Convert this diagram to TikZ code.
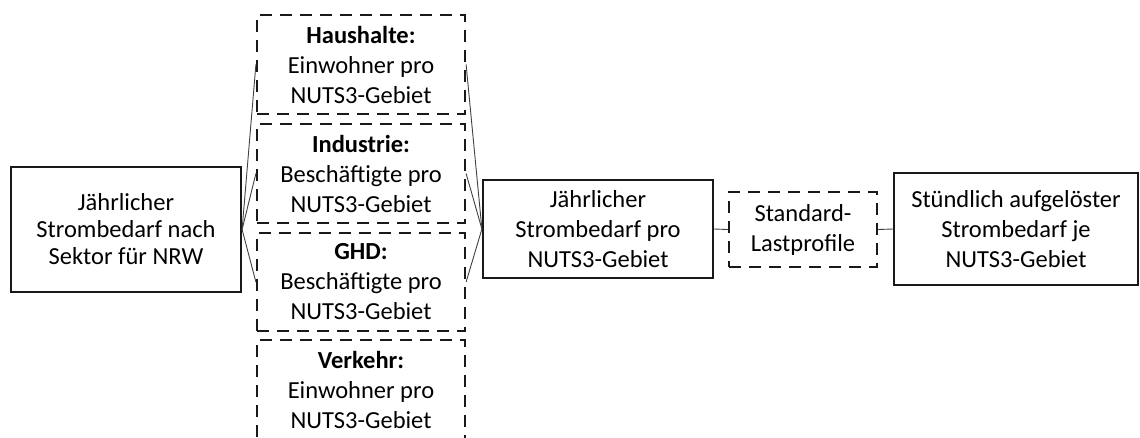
\documentclass[tikz,border=0pt]{standalone}
\usepackage{fontspec}
\setmainfont{Carlito}
\begin{document}
\begin{tikzpicture}[x=1pt,y=-1pt,
  every node/.style={font=\fontsize{24.5}{30}\selectfont, align=center, inner sep=0pt, text=black},
  solidbox/.style={draw=black!90, line width=2.2pt, minimum width=#1},
  dashbox/.style={draw=black!90, line width=2.2pt, dash pattern=on 12pt off 8pt, minimum width=#1},
  link/.style={draw=black!75, line width=0.9pt}
]
\useasboundingbox (0,0) rectangle (1140,437);
\clip (0,0) rectangle (1140,437);

% input: annual demand per sector
\node[solidbox=230pt, minimum height=125pt, font=\fontsize{24.5}{27}\selectfont] (nrw) at (126,229.5)
  {Jährlicher\\Strombedarf nach\\Sektor für NRW};

% distribution keys per sector
\node[dashbox=208pt, minimum height=99pt] (hh) at (361,64.5)
  {\textbf{Haushalte:}\\Einwohner pro\\NUTS3-Gebiet};
\node[dashbox=208pt, minimum height=99pt] (ind) at (361,173.5)
  {\textbf{Industrie:}\\Beschäftigte pro\\NUTS3-Gebiet};
\node[dashbox=208pt, minimum height=98pt] (ghd) at (361,282)
  {\textbf{GHD:}\\Beschäftigte pro\\NUTS3-Gebiet};
\node[dashbox=208pt, minimum height=99pt] (vk) at (361,389.5)
  {\textbf{Verkehr:}\\Einwohner pro\\NUTS3-Gebiet};

% regional annual demand
\node[solidbox=230pt, minimum height=98pt] (reg) at (598,229)
  {Jährlicher\\Strombedarf pro\\NUTS3-Gebiet};

% standard load profiles
\node[dashbox=148pt, minimum height=75pt] (slp) at (803,229.5)
  {Standard-\\Lastprofile};

% hourly demand
\node[solidbox=244pt, minimum height=112pt] (hour) at (1016,229)
  {Stündlich aufgelöster\\Strombedarf je\\NUTS3-Gebiet};

% connectors
\foreach \s in {hh,ind,ghd} {
  \draw[link] (nrw.east) -- (\s.west);
  \draw[link] (\s.east) -- (reg.west);
}
\draw[link] (reg.east) -- (slp.west);
\draw[link] (slp.east) -- (hour.west);
\end{tikzpicture}
\end{document}
